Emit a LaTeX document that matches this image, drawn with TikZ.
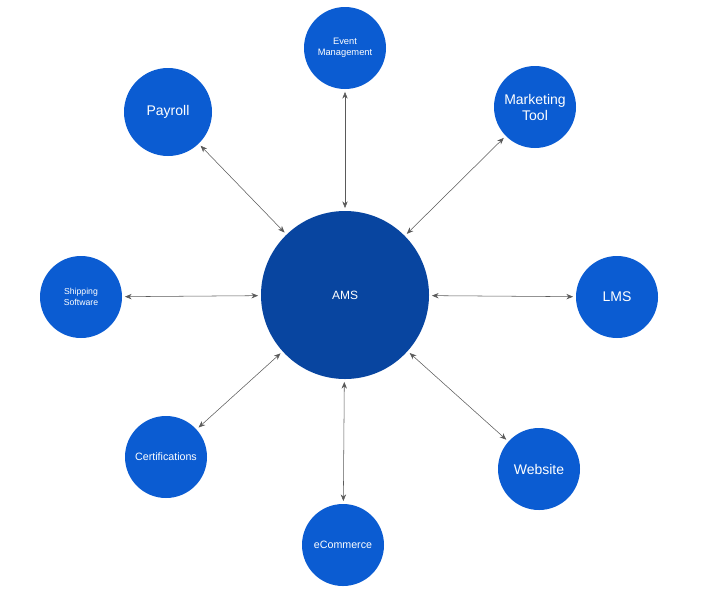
\documentclass[tikz,border=0pt]{standalone}
\usepackage{fontspec}
\setmainfont{Liberation Sans}
\usetikzlibrary{arrows.meta}

\definecolor{hubblue}{HTML}{0845A0}
\definecolor{satblue}{HTML}{0B5CD2}
\definecolor{linkgray}{HTML}{5A5A5A}

\tikzset{
	hub/.style={circle, fill=hubblue, text=white, minimum size=168*0.75pt, inner sep=0pt, font=\fontsize{9}{11}\selectfont},
	sat/.style={circle, fill=satblue, text=white, minimum size=82*0.75pt, inner sep=0pt, align=center},
	link/.style={linkgray, thin, {Stealth[length=5pt,width=4pt]}-{Stealth[length=5pt,width=4pt]}, shorten <=2pt, shorten >=2pt}
}

\begin{document}
\begin{tikzpicture}[x=0.75pt,y=0.75pt]

	\useasboundingbox[fill=white] (0,0) rectangle (709,-593);

	\node[hub] (ams) at (345,-295) {AMS};

	\node[sat, font=\fontsize{7}{8.5}\selectfont] (event) at (345,-48) {Event\\Management};
	\node[sat, minimum size=88*0.75pt, font=\fontsize{10.5}{12}\selectfont] (payroll) at (168,-112) {Payroll};
	\node[sat, font=\fontsize{10.5}{12}\selectfont] (marketing) at (535,-107) {Marketing\\Tool};
	\node[sat, font=\fontsize{6.5}{8}\selectfont] (shipping) at (81,-297) {Shipping\\Software};
	\node[sat, font=\fontsize{10.5}{12}\selectfont] (lms) at (617,-297) {LMS};
	\node[sat, font=\fontsize{8}{10}\selectfont] (cert) at (166,-457) {Certifications};
	\node[sat, font=\fontsize{8}{10}\selectfont] (ecom) at (343,-545) {eCommerce};
	\node[sat, font=\fontsize{10.5}{12}\selectfont] (website) at (539,-469) {Website};

	\foreach \n in {event,payroll,marketing,shipping,lms,cert,ecom,website}
		\draw[link] (ams) -- (\n);

\end{tikzpicture}
\end{document}
